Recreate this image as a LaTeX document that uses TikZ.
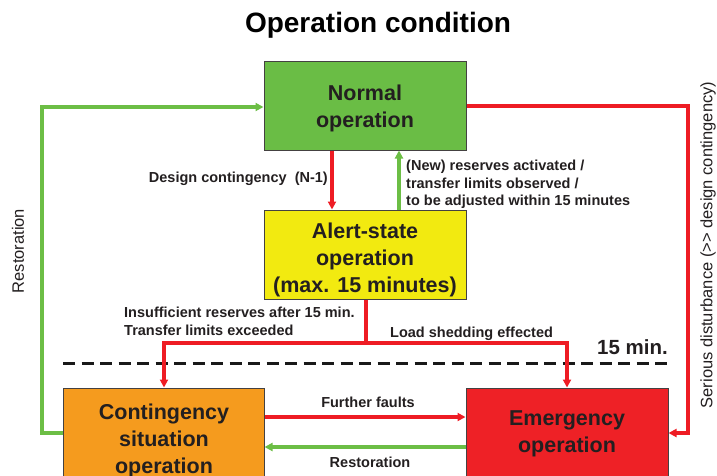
\documentclass[tikz,border=0pt]{standalone}
\usepackage{fontspec}
\setmainfont{Liberation Sans}
\usetikzlibrary{arrows.meta}
\definecolor{cgreen}{HTML}{6ABD45}
\definecolor{cyellow}{HTML}{F2EA10}
\definecolor{corange}{HTML}{F59B1E}
\definecolor{cred}{HTML}{EE2126}
\definecolor{lred}{HTML}{EE1C24}
\definecolor{lgreen}{HTML}{6CBE45}
\definecolor{ctext}{HTML}{231F20}
\tikzset{
  statebox/.style={draw=ctext!85, line width=1pt, inner sep=0pt, align=center, text=ctext,
    font=\fontsize{21.5}{27}\selectfont\bfseries},
  boxtext/.style={inner sep=0pt, align=center, text=ctext, font=\fontsize{21.5}{27}\selectfont\bfseries},
  lbl/.style={inner sep=0pt, text=ctext, font=\fontsize{14.5}{17.5}\selectfont\bfseries},
  rot/.style={inner sep=0pt, text=ctext, font=\fontsize{16.5}{20}\selectfont, rotate=90},
  redline/.style={draw=lred, line width=3.2pt},
  greenline/.style={draw=lgreen, line width=3.2pt},
  tip/.style={-{Triangle[length=8pt,width=8pt]}},
}
\begin{document}
\begin{tikzpicture}[x=1pt,y=-1pt]
\useasboundingbox (0,0) rectangle (717,475);
\clip (0,0) rectangle (717,475);
% title
\node[inner sep=0pt, text=black, font=\fontsize{28}{32}\selectfont\bfseries] (title) at (378,25) {Operation condition};
% boxes
\node[statebox, fill=cgreen, minimum width=202pt, minimum height=89pt] (normal) at (365,105.5) {};
\node[boxtext] (normaltext) at (365,108) {Normal\\operation};
\node[statebox, fill=cyellow, minimum width=202pt, minimum height=89pt] (alert) at (365,254.5) {};
\node[boxtext] (alerttext) at (365,260) {Alert-state\\operation\\(max. 15 minutes)};
\node[statebox, fill=corange, minimum width=201pt, minimum height=102pt] (cont) at (163.5,439) {};
\node[boxtext] (conttext) at (164,441) {Contingency\\situation\\operation};
\node[statebox, fill=cred, minimum width=202pt, minimum height=88pt] (emerg) at (567,432) {};
\node[boxtext] (emergtext) at (567,433.5) {Emergency\\operation};
% coordinates
\coordinate (split) at (366,343);
\coordinate (sl) at (164,343);
\coordinate (sr) at (567,343);
\coordinate (rtop) at (688,106);
\coordinate (rbot) at (688,433);
\coordinate (ltop) at (42,107);
\coordinate (lbot) at (42,433);
% dashed line
\coordinate (d1) at (63,363);
\coordinate (d2) at (668,363);
\draw[black!90, line width=3pt, dash pattern=on 12pt off 6.5pt] (d1) -- (d2);
% connectors
\draw[redline, tip] (normal.south -| 332,0) -- (alert.north -| 332,0);
\draw[greenline, tip] (alert.north -| 399,0) -- (normal.south -| 399,0);
\draw[redline] (alert.south -| split) -- (split);
\draw[redline, tip] (split) -- (sl) -- (cont.north -| sl);
\draw[redline, tip] (split) -- (sr) -- (emerg.north -| sr);
\draw[redline, tip] (normal.east |- rtop) -- (rtop) -- (rbot) -- (emerg.east |- rbot);
\draw[greenline, tip] (cont.west |- lbot) -- (lbot) -- (ltop) -- (normal.west |- ltop);
\draw[redline, tip] (cont.east |- 0,417) -- (emerg.west |- 0,417);
\draw[greenline, tip] (emerg.west |- 0,447) -- (cont.east |- 0,447);
% labels
\node[lbl, anchor=east] (l1) at (328,179) {Design contingency\ \ (N-1)};
\node[lbl, anchor=north west, align=left] (l2) at (406,160) {(New) reserves activated /\\transfer limits observed /\\to be adjusted within 15 minutes};
\node[lbl, anchor=north west, align=left] (l3) at (124,307) {Insufficient reserves after 15 min.\\Transfer limits exceeded};
\node[lbl, anchor=west] (l4) at (390,334) {Load shedding effected};
\node[inner sep=0pt, text=ctext, font=\fontsize{20.5}{24}\selectfont\bfseries, anchor=east] (l5) at (668,347) {15 min.};
\node[lbl] (l6) at (368,402) {Further faults};
\node[lbl] (l7) at (370,462) {Restoration};
\node[rot] (l8) at (18,251) {Restoration};
\node[rot] (l9) at (708,245) {Serious disturbance ({>}{>} design contingency)};
\end{tikzpicture}
\end{document}
